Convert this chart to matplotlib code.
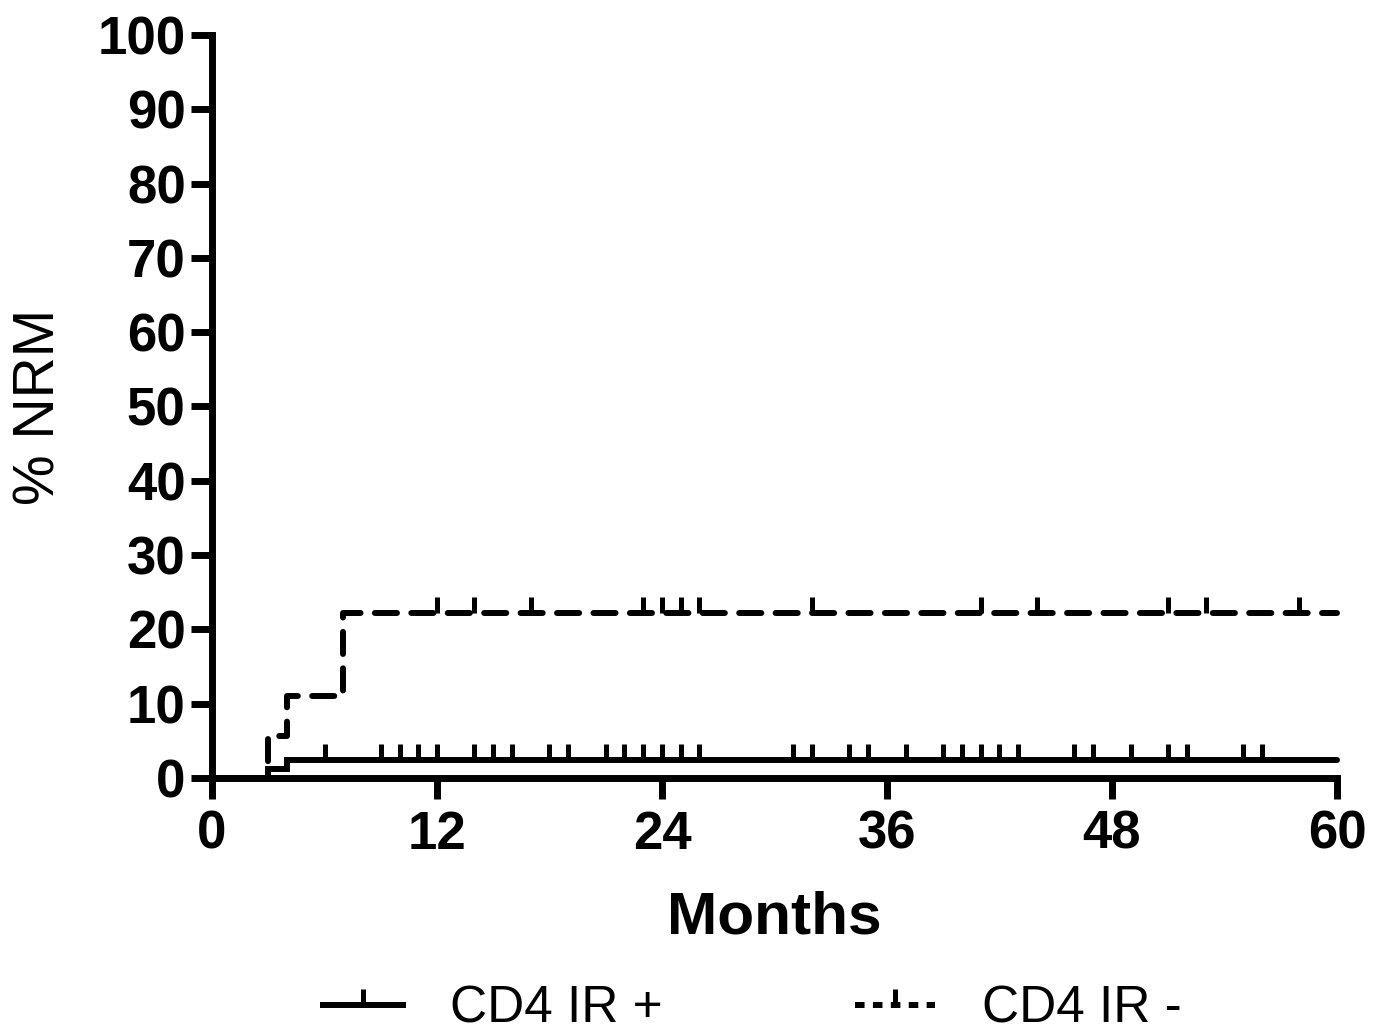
import numpy as np
import matplotlib
matplotlib.use("Agg")
import matplotlib.pyplot as plt
from matplotlib.path import Path
from matplotlib.lines import Line2D

# step curves (months, % NRM)
pos_t = [0, 3, 4, 60]
pos_y = [0, 1.2, 2.4, 2.4]
neg_t = [0, 3, 4, 7, 60]
neg_y = [0, 5.6, 11.1, 22.2, 22.2]

# censored observations (months)
pos_cens = [6, 9, 10, 11, 12, 14, 15, 16, 18, 19, 21, 22, 23, 24, 25, 26,
            31, 32, 34, 35, 37, 39, 40, 41, 42, 43, 46, 47, 49, 51, 52, 55, 56]
neg_cens = [12, 14, 17, 23, 24, 25, 26, 32, 41, 44, 51, 53, 58]

labels = ["CD4 IR +", "CD4 IR -"]
xticks = [0, 12, 24, 36, 48, 60]
yticks = list(range(0, 101, 10))

plt.rcParams['font.family'] = ['Liberation Sans', 'DejaVu Sans']

# upward censor tick marker
tick = Path([(0, 0), (0, 1)], [Path.MOVETO, Path.LINETO])

fig = plt.figure(figsize=(13.83, 10.34), dpi=100)
ax = fig.add_axes([0.1533, 0.2476, 0.8134, 0.7186])

lw = 4.3
ax.step(pos_t, pos_y, where='post', color='black', lw=lw, clip_on=False,
        solid_capstyle='round', solid_joinstyle='miter')
ax.step(neg_t, neg_y, where='post', color='black', lw=lw, clip_on=False,
        linestyle=(0, (3.7, 2.4)), dash_capstyle='round')

ax.plot(pos_cens, [pos_y[-1]] * len(pos_cens), linestyle='none', marker=tick,
        markersize=23, markeredgewidth=3.6, color='black', clip_on=False)
ax.plot(neg_cens, [neg_y[-1]] * len(neg_cens), linestyle='none', marker=tick,
        markersize=23, markeredgewidth=3.6, color='black', clip_on=False)

ax.set_xlim(0, 60)
ax.set_ylim(0, 100)
ax.set_xticks(xticks)
ax.set_yticks(yticks)
for s in ['top', 'right']:
    ax.spines[s].set_visible(False)
for s in ['left', 'bottom']:
    ax.spines[s].set_linewidth(5)
    ax.spines[s].set_capstyle('projecting')
ax.tick_params(width=5, length=15, labelsize=38)
ax.tick_params(axis='x', pad=8)
ax.tick_params(axis='y', pad=4)
for lab in ax.get_xticklabels() + ax.get_yticklabels():
    lab.set_fontweight('bold')

ax.set_xlabel("Months", fontsize=43.5, fontweight='bold', labelpad=22)
ax.set_ylabel("% NRM", fontsize=41, labelpad=22)

handles = [
    Line2D([], [], color='black', lw=lw, marker=tick, markersize=23,
           markeredgewidth=3.6),
    Line2D([], [], color='black', lw=lw, linestyle=(0, (1.6, 1.4)),
           marker=tick, markersize=23, markeredgewidth=3.6),
]
fig.legend(handles, labels, loc='center', bbox_to_anchor=(0.544, 0.024),
           ncol=2, frameon=False, fontsize=37, handlelength=1.56,
           handletextpad=0.91, columnspacing=3.75, numpoints=1)

fig.savefig("out.png", dpi=100)
